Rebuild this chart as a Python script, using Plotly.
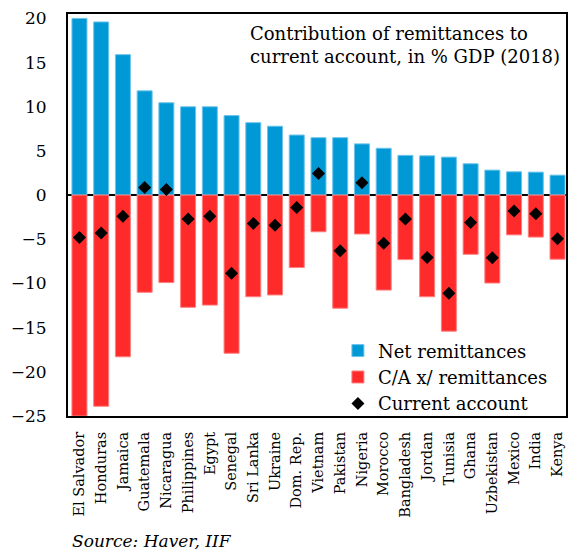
import plotly.graph_objects as go

countries = ["El Salvador", "Honduras", "Jamaica", "Guatemala", "Nicaragua", "Philippines",
             "Egypt", "Senegal", "Sri Lanka", "Ukraine", "Dom. Rep.", "Vietnam", "Pakistan",
             "Nigeria", "Morocco", "Bangladesh", "Jordan", "Tunisia", "Ghana", "Uzbekistan",
             "Mexico", "India", "Kenya"]
net_remittances = [20.0, 19.6, 15.9, 11.8, 10.45, 10.0, 10.0, 9.0, 8.2, 7.8, 6.8, 6.5, 6.5,
                   5.8, 5.3, 4.5, 4.45, 4.3, 3.55, 2.83, 2.64, 2.6, 2.26]
ca_ex_remittances = [-25.0, -23.9, -18.3, -11.0, -9.9, -12.7, -12.45, -17.9, -11.5, -11.3, -8.2,
                     -4.15, -12.8, -4.4, -10.75, -7.3, -11.5, -15.4, -6.7, -9.95, -4.5, -4.75, -7.25]
current_account = [-4.8, -4.3, -2.4, 0.85, 0.65, -2.7, -2.4, -8.85, -3.2, -3.4, -1.4,
                   2.45, -6.3, 1.4, -5.45, -2.7, -7.05, -11.1, -3.1, -7.1, -1.8, -2.1, -4.95]

FONT = "DejaVu Serif"

fig = go.Figure()
fig.add_trace(go.Bar(x=countries, y=net_remittances, name="Net remittances",
                     marker=dict(color="#0099D6", line=dict(color="#6CC4EC", width=1))))
fig.add_trace(go.Bar(x=countries, y=ca_ex_remittances, name="C/A x/ remittances",
                     marker=dict(color="#FF2A2A", line=dict(color="#FF8080", width=1))))
fig.add_trace(go.Scatter(x=countries, y=current_account, name="Current account", mode="markers",
                         marker=dict(symbol="diamond", size=10, color="black")))

fig.update_layout(
    width=568, height=550,
    margin=dict(l=68, r=0, t=14, b=134),
    barmode="relative", bargap=0.31,
    plot_bgcolor="white", paper_bgcolor="white",
    font=dict(family=FONT, color="black"),
    showlegend=True,
    legend=dict(x=0.542, y=0.208, xanchor="left", yanchor="top",
                bgcolor="rgba(0,0,0,0)", font=dict(family=FONT, size=18, color="black"),
                itemwidth=30, tracegroupgap=0),
    annotations=[
        dict(text="Contribution of remittances to<br>current account, in % GDP (2018)",
             x=0.362, y=0.982, xref="paper", yref="paper", xanchor="left", yanchor="top",
             align="left", showarrow=False, font=dict(family=FONT, size=18, color="black")),
        dict(text="<i>Source: Haver, IIF</i>", x=0.004, y=-0.311, xref="paper", yref="paper",
             xanchor="left", yanchor="middle", showarrow=False,
             font=dict(family=FONT, size=17, color="black")),
    ],
)
fig.update_xaxes(range=[-0.527, 22.39], tickangle=-90, showline=True, linecolor="black",
                 linewidth=2, mirror=True, showgrid=False, ticks="",
                 tickfont=dict(family=FONT, size=14.5, color="black"), ticklabelstandoff=8)
fig.update_yaxes(range=[-25, 20.5], tickvals=[-25, -20, -15, -10, -5, 0, 5, 10, 15, 20],
                 showline=True, linecolor="black", linewidth=2, mirror=True, showgrid=False,
                 zeroline=True, zerolinecolor="black", zerolinewidth=2, ticks="",
                 tickfont=dict(family=FONT, size=17, color="black"), ticklabelstandoff=16)

fig.write_html("out.html")
